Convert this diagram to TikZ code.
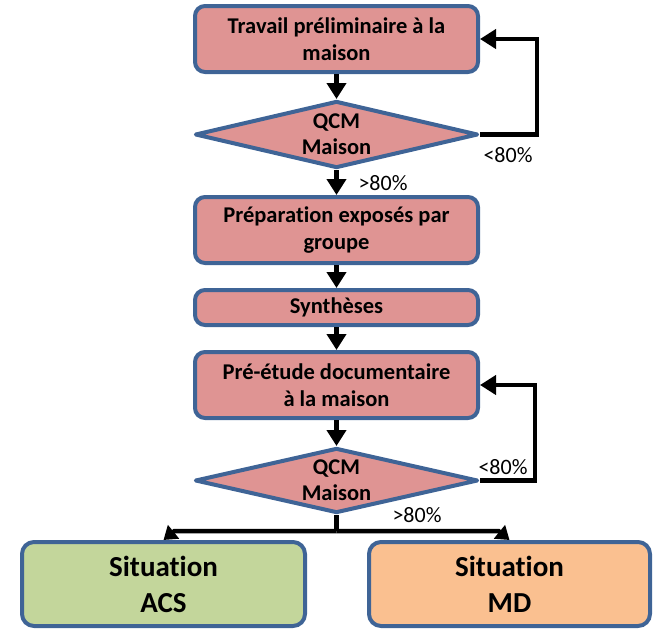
\documentclass[tikz,border=0pt]{standalone}
\usepackage{fontspec}
\setmainfont{Carlito}[RawFeature={-liga;-clig;-calt;-dlig}]
\usetikzlibrary{shapes.geometric,arrows.meta,calc}
\definecolor{stepfill}{HTML}{DF9493}
\definecolor{edge}{HTML}{3F6496}
\definecolor{acsfill}{HTML}{C3D69B}
\definecolor{mdfill}{HTML}{FAC090}
\tikzset{
  stepbox/.style={rectangle, rounded corners=10pt, draw=edge, line width=4pt,
    fill=stepfill, minimum width=283pt, inner sep=0pt, align=center,
    font=\bfseries\fontsize{22.5}{27}\selectfont},
  testbox/.style={diamond, aspect=4.2, draw=edge, line width=4pt, line join=round,
    fill=stepfill, minimum width=283pt, inner sep=0pt, align=center,
    font=\bfseries\fontsize{22.5}{26}\selectfont},
  endbox/.style={rectangle, rounded corners=12pt, draw=edge, line width=4pt,
    minimum height=84pt, inner sep=0pt, align=center,
    font=\bfseries\fontsize{29}{36}\selectfont},
  flow/.style={line width=4.5pt, -{Triangle[length=16pt,width=19pt]}},
  flowshort/.style={line width=4.5pt, -{Triangle[length=13pt,width=17pt]}},
  pct/.style={inner sep=0pt, font=\fontsize{22}{26}\selectfont},
}
\begin{document}
\begin{tikzpicture}[x=1pt,y=-1pt]
\useasboundingbox (0,0) rectangle (654,635);

% main column
\node[stepbox, minimum height=66pt] (b1) at (336.5,39) {Travail préliminaire à la\\maison};
\node[testbox, minimum height=67pt] (d1) at (336.5,134.5) {QCM\\Maison};
\node[stepbox, minimum height=66pt] (b2) at (336.5,230) {Préparation exposés par\\groupe};
\node[stepbox, minimum height=35pt] (b3) at (336.5,307.5) {Synthèses};
\node[stepbox, minimum height=66pt] (b4) at (336.5,385) {Pré-étude documentaire\\à la maison};
\node[testbox, minimum height=65pt] (d2) at (336.5,480.5) {QCM\\Maison};

% outcomes
\node[endbox, fill=acsfill, minimum width=283pt] (acs) at (163.5,584) {Situation\\ACS};
\node[endbox, fill=mdfill, minimum width=281pt] (md) at (509.5,584) {Situation\\MD};

% straight flow
\draw[flow] (b1) -- (d1);
\draw[flow] (d1) -- (b2);
\draw[flow] (b2) -- (b3);
\draw[flow] (b3) -- (b4);
\draw[flow] (b4) -- (d2);

% retry loops
\draw[flow] (d1.east) -- ++(57,0) |- (b1.east);
\draw[flow] (d2.east) -- ++(55,0) |- (b4.east);

% fork to the two situations
\coordinate (fork) at (336.5,531);
\draw[line width=4.5pt] (d2.south) -- (fork);
\draw[flowshort] (fork) -- ($(acs.north)+(11,-9)$) -- (acs.north);
\draw[flowshort] (fork) -- ($(md.north)+(-11,-9)$) -- (md.north);

% thresholds
\node[pct] (lt1) at (508,155) {<80\%};
\node[pct] (gt1) at (383,183) {>80\%};
\node[pct] (lt2) at (503,467) {<80\%};
\node[pct] (gt2) at (417,515) {>80\%};
\end{tikzpicture}
\end{document}
